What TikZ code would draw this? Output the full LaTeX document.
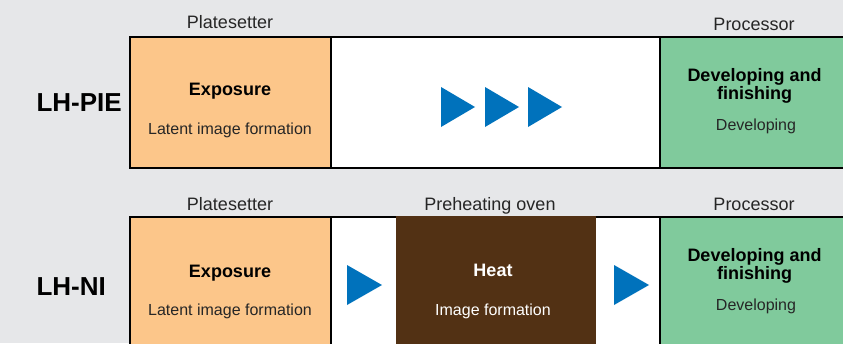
\documentclass[tikz,border=0pt]{standalone}
\usepackage{fontspec}
\setmainfont{Liberation Sans}
\definecolor{bggray}{RGB}{230,231,233}
\definecolor{exporange}{RGB}{252,198,138}
\definecolor{devgreen}{RGB}{128,202,156}
\definecolor{heatbrown}{RGB}{82,49,20}
\definecolor{arrowblue}{RGB}{0,114,188}
\begin{document}
\begin{tikzpicture}[x=1pt,y=-1pt]
	\tikzstyle{Stage} = [rectangle, minimum height=131pt, inner sep=0pt, draw=black, line width=1.2pt]
	\tikzstyle{Head} = [anchor=base, font=\fontsize{18}{18}\selectfont, text=black!85]
	\tikzstyle{Task} = [anchor=base, align=center, font=\bfseries\fontsize{18}{18}\selectfont]
	\tikzstyle{Sub} = [anchor=base, font=\fontsize{16}{16}\selectfont, text=black!85]
	\tikzstyle{Line} = [anchor=base west, font=\bfseries\fontsize{26}{26}\selectfont]
	
	\clip (0,0) rectangle (843,343);
	\fill [bggray] (0,0) rectangle (843,343);
	
	% LH-PIE
	\node (pieExpose) [Stage, fill=exporange, minimum width=201pt] at (230.5,102.5) {};
	\node (pieGap) [Stage, fill=white, minimum width=329pt] at (495.5,102.5) {};
	\node (pieDevelop) [Stage, fill=devgreen, minimum width=189pt] at (754.5,102.5) {};
	\foreach \x in {441,485,528}
		\fill [arrowblue] (\x,87) -- ++(34,20) -- ++(-34,20) -- cycle;
	
	\node (pieName) [Line] at (33,111.5) {LH-PIE};
	\node (pieSetter) [Head] at (230,28.5) {Platesetter};
	\node (pieProc) [Head] at (754,30.5) {Processor};
	\node (pieExpT) [Task] at (230,95.5) {Exposure};
	\node (pieExpS) [Sub] at (230,134) {Latent image formation};
	\node (pieDevT) [Task] at (754.5,99) {Developing and\\finishing};
	\node (pieDevS) [Sub] at (756,130.5) {Developing};
	
	% LH-NI
	\node (niExpose) [Stage, fill=exporange, minimum width=201pt] at (230.5,282.5) {};
	\node (niGap) [Stage, fill=white, minimum width=329pt] at (495.5,282.5) {};
	\node (niHeat) [rectangle, fill=heatbrown, inner sep=0pt, minimum width=200pt, minimum height=133pt] at (496,282.5) {};
	\node (niDevelop) [Stage, fill=devgreen, minimum width=189pt] at (754.5,282.5) {};
	\foreach \x in {347,614}
		\fill [arrowblue] (\x,265) -- ++(35,20) -- ++(-35,20) -- cycle;
	
	\node (niName) [Line] at (33,295) {LH-NI};
	\node (niSetter) [Head] at (230,210) {Platesetter};
	\node (niOven) [Head] at (490,210) {Preheating oven};
	\node (niProc) [Head] at (754,210.5) {Processor};
	\node (niExpT) [Task] at (230,277.5) {Exposure};
	\node (niExpS) [Sub] at (230,315.5) {Latent image formation};
	\node (niHeatT) [Task, text=white] at (493,276.5) {Heat};
	\node (niHeatS) [Sub, text=white] at (493,315.5) {Image formation};
	\node (niDevT) [Task] at (754.5,279) {Developing and\\finishing};
	\node (niDevS) [Sub] at (756,310.5) {Developing};
\end{tikzpicture}
\end{document}
